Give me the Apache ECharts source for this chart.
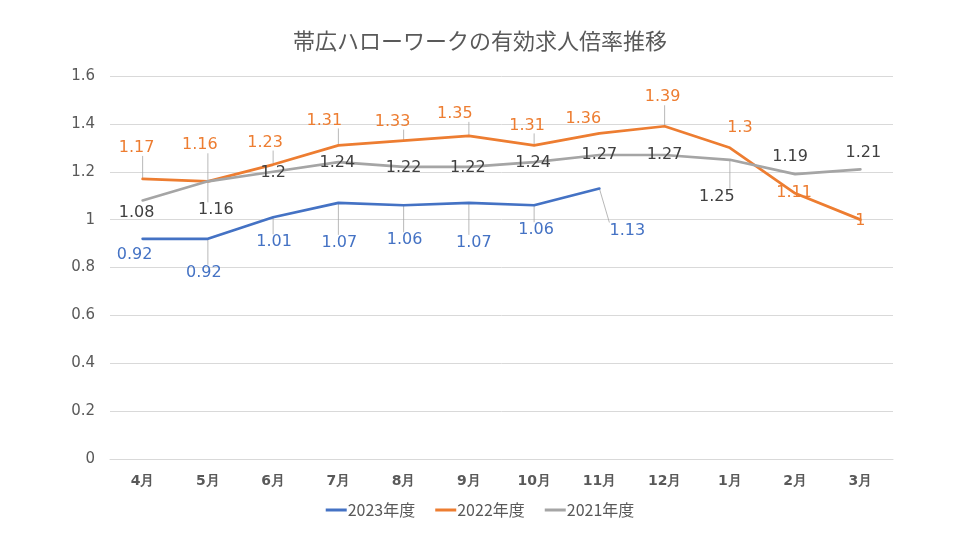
<!DOCTYPE html>
<html><head><meta charset="utf-8">
<script src="https://cdn.jsdelivr.net/npm/echarts@6/dist/echarts.min.js"></script>
<style>html,body{margin:0;padding:0;background:#fff}#c{width:960px;height:540px}</style>
</head><body><div id="c"></div>
<script>
// ---- data ----
const categories = ['4月','5月','6月','7月','8月','9月','10月','11月','12月','1月','2月','3月'];
const seriesNames = ['2023年度','2022年度','2021年度'];
const fy2023 = [0.92,0.92,1.01,1.07,1.06,1.07,1.06,1.13,null,null,null,null];
const fy2022 = [1.17,1.16,1.23,1.31,1.33,1.35,1.31,1.36,1.39,1.3,1.11,1];
const fy2021 = [1.08,1.16,1.2,1.24,1.22,1.22,1.24,1.27,1.27,1.25,1.19,1.21];
const yMin = 0, yMax = 1.6, yInterval = 0.2;

// ---- label placement (pixel offsets of label centre from point) ----
const off2023 = [[-8,16],[-4,34],[1,25],[1,40],[1,35],[5,40],[2,25],[28,42]];
const off2022 = [[-6,-31],[-8,-36],[-8,-22],[-14,-25],[-11,-19],[-14,-22],[-7,-20],[-16,-15],[-2,-29],[10,-20],[-1,0],[0,1]];
const off2021 = [[-6,12],[8,29],[0,1],[-1,1],[0,1],[-1,1],[-1,1],[0,0],[0,0],[-13,37],[-5,-17],[3,-17]];
const lead2023 = [0,1,1,1,1,1,1,1];
const lead2022 = [1,1,1,1,1,1,1,0,1,0,0,0];
const lead2021 = [0,1,0,0,0,0,0,0,0,1,0,0];
const offsets = [off2023, off2022, off2021];
const leaders = [lead2023, lead2022, lead2021];
const values = [fy2023, fy2022, fy2021];
const colors = ['#4472C4','#ED7D31','#A5A5A5'];
const labelColors = ['#4472C4','#ED7D31','#404040'];

const numFont = "DejaVu Sans";
const jpFont = "Noto Sans CJK JP";

const chart = echarts.init(document.getElementById('c'), null, {renderer:'canvas'});

function mkSeries(k){
  return {
    name: seriesNames[k],
    type: 'line',
    data: values[k],
    connectNulls: false,
    symbol: 'circle',
    symbolSize: 1,
    itemStyle: {color: colors[k]},
    lineStyle: {color: colors[k], width: 2.7, cap: 'round', join: 'round'},
    z: 2 + k,
    label: {
      show: true,
      position: 'inside',
      color: labelColors[k],
      fontFamily: numFont,
      fontSize: 16,
      formatter: p => String(p.value)
    },
    labelLayout: function(p){
      const o = offsets[k][p.dataIndex] || [0,0];
      return {dx: o[0], dy: o[1], hideOverlap: false, moveOverlap: null};
    },
    emphasis: {disabled: true},
    animation: false
  };
}

const option = {
  animation: false,
  backgroundColor: '#ffffff',
  title: {
    text: '帯広ハローワークの有効求人倍率推移',
    left: 'center',
    top: 30,
    padding: 0,
    textStyle: {fontFamily: jpFont, fontSize: 22, fontWeight: 'normal', color: '#595959'}
  },
  legend: {
    data: seriesNames,
    bottom: 17,
    left: 'center',
    icon: 'rect',
    itemWidth: 21,
    itemHeight: 3,
    itemGap: 20,
    textStyle: {fontFamily: jpFont, fontSize: 16, color: '#595959', padding: [0,0,0,-4]}
  },
  grid: {left: 110, right: 67, top: 76, bottom: 81, containLabel: false},
  xAxis: {
    type: 'category',
    data: categories,
    boundaryGap: true,
    axisLine: {show: true, lineStyle: {color: '#d9d9d9', width: 1}},
    axisTick: {show: false},
    axisLabel: {color: '#595959', fontFamily: numFont, fontSize: 14, fontWeight: 'bold', margin: 15}
  },
  yAxis: {
    type: 'value',
    min: yMin, max: yMax, interval: yInterval,
    axisLine: {show: false},
    axisTick: {show: false},
    splitLine: {lineStyle: {color: '#d9d9d9', width: 1}},
    axisLabel: {color: '#595959', fontFamily: numFont, fontSize: 15, margin: 15,
      formatter: v => String(Math.round(v*10)/10)}
  },
  series: [mkSeries(0), mkSeries(1), mkSeries(2)]
};
chart.setOption(option);

// leader lines from each point to its displaced label
const hw = 18, hh = 8;
const gfx = [];
for (let k = 0; k < 3; k++) {
  values[k].forEach((v, i) => {
    if (v == null || !leaders[k][i]) return;
    const p = chart.convertToPixel({xAxisIndex:0, yAxisIndex:0}, [i, v]);
    const o = offsets[k][i];
    const cx = p[0] + o[0], cy = p[1] + o[1];
    const qx = Math.min(Math.max(p[0], cx - hw), cx + hw);
    const qy = Math.min(Math.max(p[1], cy - hh), cy + hh);
    if (Math.hypot(qx - p[0], qy - p[1]) < 2) return;
    gfx.push({type:'line', shape:{x1:p[0], y1:p[1], x2:qx, y2:qy},
      style:{stroke:'#a6a6a6', lineWidth:0.8}, z: 1, silent: true});
  });
}
chart.setOption({graphic: {elements: gfx}});
</script>
</body></html>
